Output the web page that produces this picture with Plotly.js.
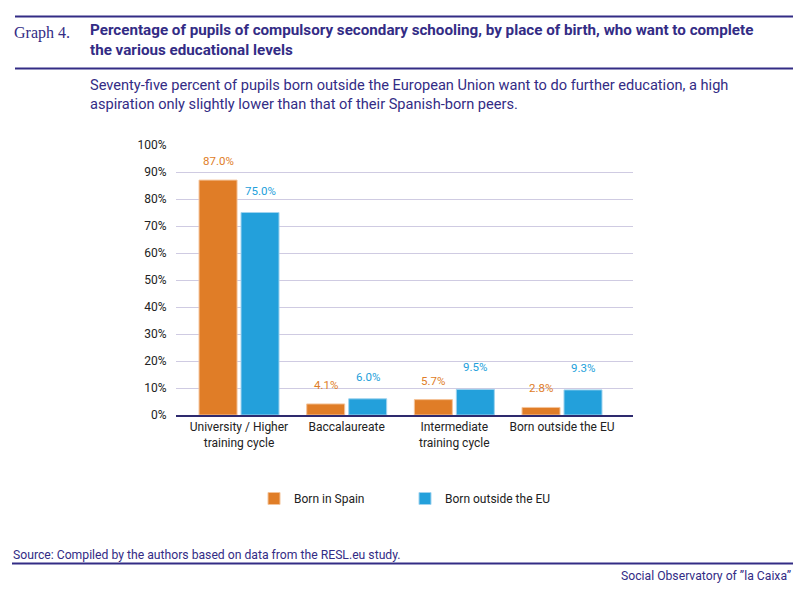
<!DOCTYPE html>
<html>
<head>
<meta charset="utf-8">
<script src="https://cdn.plot.ly/plotly-3.0.1.min.js"></script>
<style>
html,body{margin:0;padding:0;background:#fff;}
#chart{width:800px;height:591px;}
</style>
</head>
<body>
<div id="chart"></div>
<script>
// ---- data ----
const categories = ["University / Higher<br>training cycle", "Baccalaureate", "Intermediate<br>training cycle", "Born outside the EU"];
const seriesNames = ["Born in Spain", "Born outside the EU"];
const bornInSpain = [87.0, 4.1, 5.7, 2.8];
const bornOutsideEU = [75.0, 6.0, 9.5, 9.3];
const yTickVals = [0, 10, 20, 30, 40, 50, 60, 70, 80, 90, 100];
const yTickText = ["0%", "10%", "20%", "30%", "40%", "50%", "60%", "70%", "80%", "90%", "100%"];

// ---- layout helpers (pixel -> paper) ----
const W = 800, H = 591;
const M = {l: 176, r: 167, t: 145, b: 176};
const PW = W - M.l - M.r, PH = H - M.t - M.b;
const px = x => (x - M.l) / PW;
const py = y => (H - M.b - y) / PH;

const purple = "#332c85";
const orange = "#e07d27";
const blue = "#23a0db";
const FONT = "Roboto, 'Open Sans', sans-serif";

const idx = categories.map((_, i) => i);
const barW = 0.353;
const offs = [-0.371, 0.019];

const traces = [
  {type: "bar", name: seriesNames[0], x: idx, y: bornInSpain, width: barW, offset: offs[0],
   marker: {color: orange, line: {color: "#f4c49a", width: 1}}, hoverinfo: "y"},
  {type: "bar", name: seriesNames[1], x: idx, y: bornOutsideEU, width: barW, offset: offs[1],
   marker: {color: blue, line: {color: "#9fd3ef", width: 1}}, hoverinfo: "y"}
];

const annotations = [];
function lbl(text, x, y, opts) {
  annotations.push(Object.assign({text: text, xref: "paper", yref: "paper", x: px(x), y: py(y),
    showarrow: false, xanchor: "left", yanchor: "middle", align: "left",
    font: {family: FONT, size: 14.8, color: purple}}, opts || {}));
}
lbl("Graph 4.", 12, 33, {font: {family: "'Liberation Serif', 'DejaVu Serif', serif", size: 16, color: purple}});
lbl("<b>Percentage of pupils of compulsory secondary schooling, by place of birth, who want to complete<br>the various educational levels</b>", 88, 40.5, {font: {family: FONT, size: 15.2, color: purple}});
lbl("Seventy-five percent of pupils born outside the European Union want to do further education, a high<br>aspiration only slightly lower than that of their Spanish-born peers.", 88, 94.5, {font: {family: FONT, size: 14.6, color: purple}});
lbl("Source: Compiled by the authors based on data from the RESL.eu study.", 11, 555, {font: {family: FONT, size: 12.2, color: purple}});
lbl("Social Observatory of \u201dla Caixa\u201d", 793, 576, {xanchor: "right", font: {family: FONT, size: 12.2, color: purple}});

// value labels
[bornInSpain, bornOutsideEU].forEach((vals, s) => {
  vals.forEach((v, i) => {
    annotations.push({
      text: v.toFixed(1) + "%", xref: "x", yref: "y",
      x: i + offs[s] + barW / 2, y: v, yanchor: "middle", xanchor: "center",
      yshift: s === 0 ? 19 : 22, showarrow: false,
      font: {family: FONT, size: 11.5, color: s === 0 ? orange : blue}
    });
  });
});

const shapes = [
  {type: "line", xref: "paper", yref: "paper", x0: px(15), x1: px(793), y0: py(16.5), y1: py(16.5), line: {color: purple, width: 2}},
  {type: "line", xref: "paper", yref: "paper", x0: px(15), x1: px(793), y0: py(68.5), y1: py(68.5), line: {color: purple, width: 2}},
  {type: "line", xref: "paper", yref: "paper", x0: px(12), x1: px(793), y0: py(563.5), y1: py(563.5), line: {color: purple, width: 2}}
];

const layout = {
  width: W, height: H,
  margin: M,
  paper_bgcolor: "#fff", plot_bgcolor: "#fff",
  font: {family: FONT, size: 12, color: "#222"},
  showlegend: true,
  barmode: "overlay",
  xaxis: {
    range: [-0.585, 3.66], tickvals: idx, ticktext: categories,
    showgrid: false, zeroline: false, showline: true, linecolor: "#2e2a6e", linewidth: 1.5,
    ticks: "", tickfont: {family: FONT, size: 12, color: "#222"}, fixedrange: true
  },
  yaxis: {
    range: [0, 100], tickvals: yTickVals, ticktext: yTickText,
    showgrid: true, gridcolor: "#cfcbe2", gridwidth: 1, zeroline: false, showline: false,
    ticks: "outside", ticklen: 6, tickcolor: "rgba(0,0,0,0)",
    tickfont: {family: FONT, size: 12, color: "#222"}, fixedrange: true
  },
  legend: {
    orientation: "h", x: px(254), y: py(484), xanchor: "left", yanchor: "top",
    entrywidth: 106, entrywidthmode: "pixels",
    font: {family: FONT, size: 12, color: "#222"}, bgcolor: "rgba(0,0,0,0)"
  },
  annotations: annotations,
  shapes: shapes
};

Plotly.newPlot("chart", traces, layout, {displayModeBar: false, staticPlot: true});
</script>
</body>
</html>
